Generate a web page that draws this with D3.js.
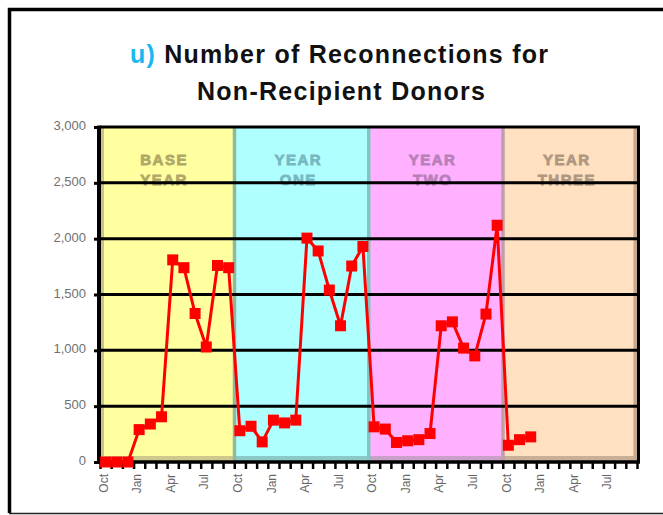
<!DOCTYPE html>
<html>
<head>
<meta charset="utf-8">
<script src="https://cdn.jsdelivr.net/npm/d3@7"></script>
<style>
  html, body { margin: 0; padding: 0; background: #fff; }
  svg { display: block; }
  text { font-family: Arial, "Liberation Sans", sans-serif; }
</style>
</head>
<body>
<div id="chart"></div>
<script>
// ---------------- data ----------------
const monthNames = ["Oct","Nov","Dec","Jan","Feb","Mar","Apr","May","Jun","Jul","Aug","Sep"];
const yearLabels = [["BASE","YEAR"],["YEAR","ONE"],["YEAR","TWO"],["YEAR","THREE"]];
const yearFills  = ["#ffffa0","#b0ffff","#ffb0ff","#ffe0c0"];
const yearText   = ["#b0a868","#78b8c0","#b880b8","#b09880"];
const yearFloor  = ["#cfc88c","#8cc8c8","#c8a0c8","#c8b098"];
const yearEdge   = ["#c8c48c","#90b8a0","#80c4c4","#c0a0a8","#c8a890"];
const reconnections = [
  0, 0, 0, 290, 340, 405, 1810, 1740, 1330, 1030, 1760, 1740,
  280, 320, 180, 375, 350, 375, 2005, 1890, 1540, 1220, 1755, 1930,
  315, 295, 175, 190, 200, 255, 1220, 1255, 1020, 950, 1325, 2120,
  150, 200, 225
];
const yTicks = [0, 500, 1000, 1500, 2000, 2500, 3000];
const quarterLabels = ["Oct","Jan","Apr","Jul"];

// ---------------- layout ----------------
const W = 663, H = 515;
const L = 100, R = 637, T = 127, B = 462;

const keys = [];
yearLabels.forEach((_, yi) => monthNames.forEach(m => keys.push(yi + "-" + m)));

const x = d3.scaleBand().domain(keys).range([L, R]).padding(0);
const xb = d3.scaleLinear().domain([0, keys.length]).range([L, R]);
const y = d3.scaleLinear().domain([0, 3000]).range([B, T]);

const svg = d3.select("#chart").append("svg").attr("width", W).attr("height", H);

// outer frame
svg.append("path").attr("d", `M${W+5},9.5 H9.5 V513`).attr("fill","none").attr("stroke","#000").attr("stroke-width",3.5);
svg.append("line").attr("x1",9).attr("x2",W).attr("y1",513.5).attr("y2",513.5).attr("stroke","#222").attr("stroke-width",1.5);

// title
const title = svg.append("g");
const t1 = title.append("text").attr("x", 339).attr("y", 63).attr("text-anchor","middle")
  .attr("font-size", 25).attr("font-weight","bold").attr("textLength", 418).attr("lengthAdjust","spacing");
t1.append("tspan").attr("fill","#1ab8f0").text("u)");
t1.append("tspan").attr("fill","#111").text(" Number of Reconnections for");
title.append("text").attr("x", 341).attr("y", 100).attr("text-anchor","middle")
  .attr("font-size", 25).attr("font-weight","bold").attr("fill","#111")
  .attr("textLength", 288).attr("lengthAdjust","spacing").text("Non-Recipient Donors");

// year bands
const bands = svg.append("g");
yearLabels.forEach((lab, yi) => {
  const x0 = x(yi + "-" + monthNames[0]);
  const x1 = x(yi + "-" + monthNames[11]) + x.bandwidth();
  bands.append("rect").attr("x", x0).attr("y", T).attr("width", x1 - x0).attr("height", B - T).attr("fill", yearFills[yi]);
  bands.append("rect").attr("x", x0).attr("y", B - 6).attr("width", x1 - x0).attr("height", 6).attr("fill", yearFloor[yi]);
  const cx = (x0 + x1) / 2 - 3;
  lab.forEach((s, li) => {
    bands.append("text").attr("x", cx).attr("y", 165 + li * 20).attr("text-anchor","middle")
      .attr("font-size", 15).attr("font-weight","bold").attr("letter-spacing", 1.5)
      .attr("fill", yearText[yi]).attr("stroke", yearText[yi]).attr("stroke-width", 0.8)
      .text(s);
  });
});
// band edge strips
const edgeX = [0, 12, 24, 36, 48];
edgeX.forEach((k, i) => {
  const px = xb(k);
  let x0 = px - 1.5, w = 3.5;
  if (i === 0) x0 = px + 0.5;
  if (i === 4) x0 = px - 3.5;
  bands.append("rect").attr("x", x0).attr("y", T).attr("width", w).attr("height", B - T).attr("fill", yearEdge[i]);
});

// gridlines + y axis
const yAxis = d3.axisLeft(y).tickValues(yTicks).tickFormat(d3.format(",")).tickSize(6).tickPadding(8);
const gy = svg.append("g").attr("transform", `translate(${L},0)`).call(yAxis);
gy.select(".domain").remove();
gy.selectAll(".tick line").attr("stroke","#000").attr("stroke-width",3);
gy.selectAll(".tick text").attr("font-size", 13).attr("fill","#707070").attr("dy","0.2em");
svg.append("g").selectAll("line").data(yTicks).join("line")
  .attr("x1", L).attr("x2", R).attr("y1", d => y(d)).attr("y2", d => y(d))
  .attr("stroke","#000").attr("stroke-width",3);

// x axis boundary ticks
const xTickAxis = d3.axisBottom(xb).tickValues(d3.range(0, keys.length + 1)).tickSize(7).tickFormat("");
const gx = svg.append("g").attr("transform", `translate(0,${B})`).call(xTickAxis);
gx.select(".domain").remove();
gx.selectAll(".tick line").attr("stroke","#000").attr("stroke-width",2.5);

// x labels
const xLabAxis = d3.axisBottom(x).tickValues(keys.filter(k => quarterLabels.includes(k.split("-")[1])))
  .tickSize(0).tickFormat(k => k.split("-")[1]);
const gxl = svg.append("g").attr("transform", `translate(-2,${B})`).call(xLabAxis);
gxl.select(".domain").remove();
gxl.selectAll(".tick text").attr("font-size", 12).attr("fill","#666")
  .attr("transform","rotate(-90)").attr("text-anchor","end").attr("x", -12).attr("y", 0).attr("dy","0.35em");

// axis lines / frame of plot
svg.append("line").attr("x1", L - 1).attr("x2", L - 1).attr("y1", T - 1.5).attr("y2", B + 1.5).attr("stroke","#000").attr("stroke-width",4);
svg.append("line").attr("x1", R + 1.5).attr("x2", R + 1.5).attr("y1", T - 1.5).attr("y2", B + 1.5).attr("stroke","#000").attr("stroke-width",3);
svg.append("line").attr("x1", L - 3).attr("x2", R + 3).attr("y1", B).attr("y2", B).attr("stroke","#000").attr("stroke-width",3);

// series
const pts = reconnections.map((v, i) => ({ k: keys[i], v }));
const line = d3.line().x(d => x(d.k) + x.bandwidth() / 2).y(d => y(d.v));
svg.append("path").datum(pts).attr("d", line).attr("fill","none").attr("stroke","#ff0000").attr("stroke-width",3);
const ms = 11;
svg.append("g").selectAll("rect").data(pts).join("rect")
  .attr("x", d => x(d.k) + x.bandwidth() / 2 - ms / 2).attr("y", d => y(d.v) - ms / 2)
  .attr("width", ms).attr("height", ms).attr("fill","#ff0000");
</script>
</body>
</html>
